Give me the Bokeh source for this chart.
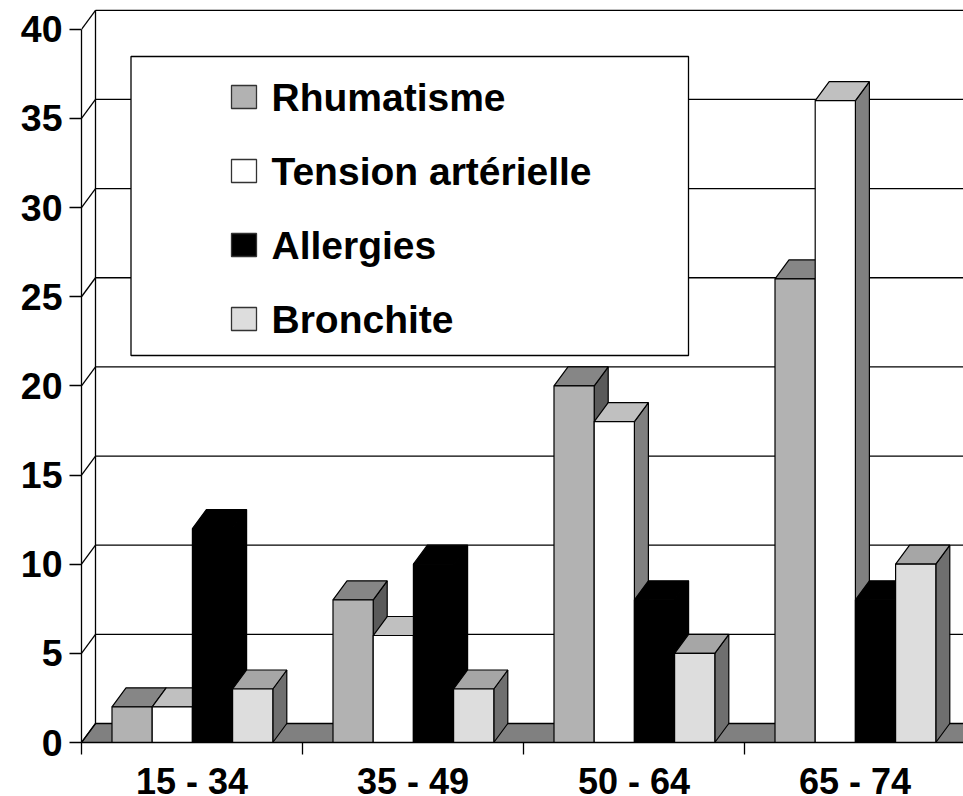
from bokeh.plotting import figure
from bokeh.models import FixedTicker, ColumnDataSource
from bokeh.core.properties import value
from bokeh.embed import file_html
from bokeh.resources import INLINE

categories = ["15 - 34", "35 - 49", "50 - 64", "65 - 74"]
series_names = ["Rhumatisme", "Tension artérielle", "Allergies", "Bronchite"]
rhumatisme = [2, 8, 20, 26]
tension = [2, 6, 18, 36]
allergies = [12, 10, 8, 8]
bronchite = [3, 3, 5, 10]
series = [rhumatisme, tension, allergies, bronchite]
y_ticks = [0, 5, 10, 15, 20, 25, 30, 35, 40]

front_colors = ["#b2b2b2", "#ffffff", "#000000", "#dddddd"]
top_colors = ["#868686", "#c0c0c0", "#000000", "#a6a6a6"]
side_colors = ["#5a5a5a", "#808080", "#000000", "#6f6f6f"]

W, H = 963, 796
LEFT, TOP, BASE = 81, 8, 742
PX_X, PX_Y = 221.0, 17.83
FONT = "Liberation Sans"
FS = "36px"
DX, DY = 14 / PX_X, 19 / PX_Y
GAP = 30.5 / PX_X
BAR = 40.2 / PX_X
x_end = (W - LEFT) / PX_X
y_end = (BASE - TOP) / PX_Y


def px(x):
    return (x - LEFT) / PX_X


def py(y):
    return (BASE - y) / PX_Y


p = figure(width=W, height=H, output_backend="svg", toolbar_location=None,
           x_range=(0, x_end), y_range=(0, y_end),
           min_border_left=LEFT, min_border_right=0, min_border_top=TOP, min_border_bottom=H - BASE,
           frame_width=W - LEFT, frame_height=BASE - TOP,
           outline_line_color=None, margin=(0, 0, 0, 0))
p.grid.visible = False

# floor
p.patch([0, DX, x_end + 1, x_end + 1], [0, DY, DY, 0], fill_color="#808080",
        line_color="#000000", line_width=1.2)

# walls
top_v = y_ticks[-1] + DY
p.segment([DX] * len(y_ticks), [v + DY for v in y_ticks], [x_end] * len(y_ticks), [v + DY for v in y_ticks],
          line_color="#000000", line_width=1.3)
p.segment([0] * len(y_ticks), y_ticks, [DX] * len(y_ticks), [v + DY for v in y_ticks],
          line_color="#000000", line_width=1.3)
p.segment([DX], [DY], [DX], [top_v], line_color="#000000", line_width=1.3)

# bars, painted left to right
xs, ys, fills = [], [], []
for c in range(len(categories)):
    for s, vals in enumerate(series):
        l = c + GAP + s * BAR
        r = l + BAR
        v = vals[c]
        xs.append([r, r + DX, r + DX, r])
        ys.append([0, DY, v + DY, v])
        fills.append(side_colors[s])
        xs.append([l, l + DX, r + DX, r])
        ys.append([v, v + DY, v + DY, v])
        fills.append(top_colors[s])
        xs.append([l, r, r, l])
        ys.append([0, 0, v, v])
        fills.append(front_colors[s])
p.patches(xs="xs", ys="ys", fill_color="fills", line_color="#000000", line_width=1.2,
          source=ColumnDataSource(dict(xs=xs, ys=ys, fills=fills)))

# legend box
p.quad(left=[px(130.5)], right=[px(688)], top=[py(56)], bottom=[py(355)],
       fill_color="#ffffff", line_color="#000000", line_width=1.3)
rows = [96.5, 170.5, 244.5, 318.5]
p.quad(left=[px(231)] * 4, right=[px(256)] * 4,
       top=[py(r - 11.5) for r in rows], bottom=[py(r + 11.5) for r in rows],
       fill_color=front_colors, line_color="#333333", line_width=1.3)
p.text(x=[px(271)] * 4, y=[py(r) for r in rows], text=series_names,
       text_font=value(FONT), text_font_style="bold", text_font_size="39px",
       text_baseline="middle", text_align="left", text_color="#000000")

# axes
ya = p.yaxis[0]
ya.ticker = FixedTicker(ticks=y_ticks)
ya.bounds = (0, y_ticks[-1])
ya.major_tick_out = 12
ya.major_tick_in = 0
ya.minor_tick_line_color = None
ya.major_label_standoff = 7
ya.major_tick_line_width = 1.3
ya.axis_line_width = 1.3

xa = p.xaxis[0]
xa.ticker = FixedTicker(ticks=[i + 0.5 for i in range(len(categories))],
                        minor_ticks=list(range(len(categories) + 1)))
xa.major_label_overrides = {i + 0.5: c for i, c in enumerate(categories)}
xa.major_tick_out = 0
xa.major_tick_in = 0
xa.minor_tick_out = 12
xa.minor_tick_in = 0
xa.minor_tick_line_width = 1.3
xa.minor_tick_line_color = "#000000"
xa.major_label_standoff = 6
xa.axis_line_width = 1.3

for a in (xa, ya):
    a.major_label_text_font = FONT
    a.major_label_text_font_style = "bold"
    a.major_label_text_color = "#000000"
    a.axis_line_color = "#000000"
    a.major_tick_line_color = "#000000"
xa.major_label_text_font_size = FS
ya.major_label_text_font_size = "37.5px"

open("out.html", "w").write(file_html(p, INLINE))
